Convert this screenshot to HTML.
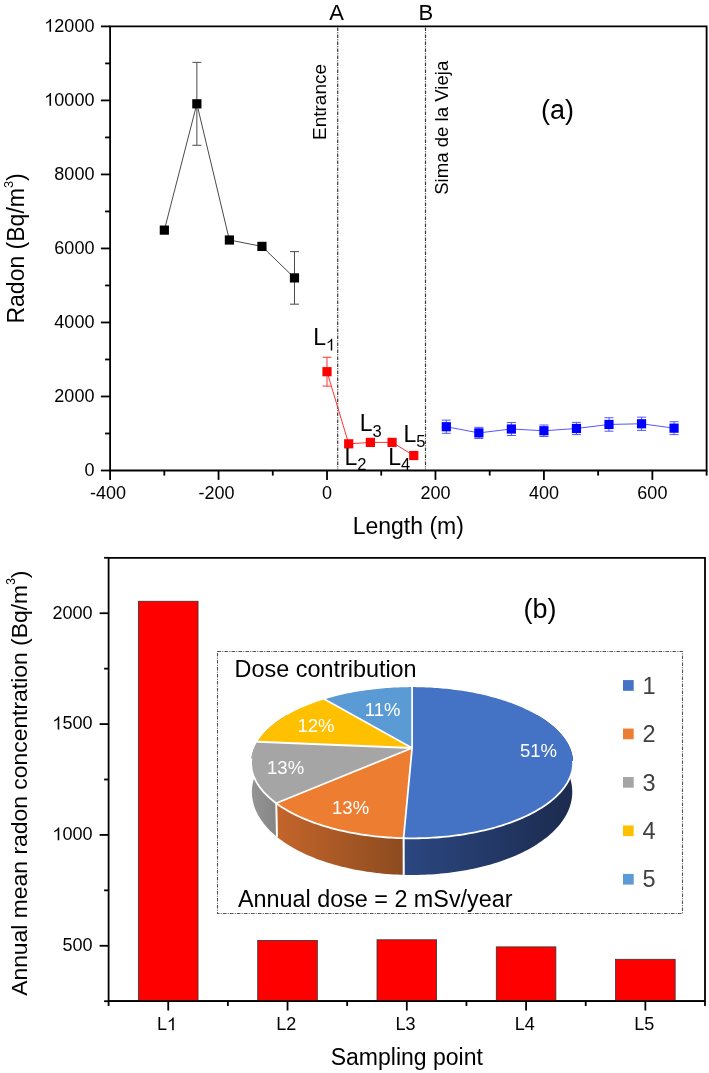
<!DOCTYPE html>
<html><head><meta charset="utf-8"><style>html,body{margin:0;padding:0;background:#fff;}svg{display:block;will-change:transform;}</style></head>
<body><svg width="709" height="1073" viewBox="0 0 709 1073"><defs><linearGradient id="g0" gradientUnits="userSpaceOnUse" x1="403.6" y1="0" x2="573.1" y2="0"><stop offset="0" stop-color="#2B4781"/><stop offset="1" stop-color="#1C2B4E"/></linearGradient><linearGradient id="g1" gradientUnits="userSpaceOnUse" x1="276.2" y1="0" x2="403.6" y2="0"><stop offset="0" stop-color="#C4652B"/><stop offset="1" stop-color="#8C4B1F"/></linearGradient><linearGradient id="g2" gradientUnits="userSpaceOnUse" x1="251.1" y1="0" x2="276.9" y2="0"><stop offset="0" stop-color="#959595"/><stop offset="1" stop-color="#858585"/></linearGradient><linearGradient id="g3" gradientUnits="userSpaceOnUse" x1="257.4" y1="0" x2="288.1" y2="0"><stop offset="0" stop-color="#C99A00"/><stop offset="1" stop-color="#a07800"/></linearGradient></defs><rect width="709" height="1073" fill="#fff"/><path d="M110.1,26.4H706.6V470.5H110.1Z" stroke="#000" stroke-width="1.8" fill="none" stroke-linejoin="miter"/>
<line x1="100.89999999999999" y1="470.50" x2="110.1" y2="470.50" stroke="#000" stroke-width="1.8" fill="none"/>
<text x="84.39" y="475.90" font-size="18" fill="#000" font-family="Liberation Sans, sans-serif">0</text>
<line x1="105.1" y1="433.49" x2="110.1" y2="433.49" stroke="#000" stroke-width="1.8" fill="none"/>
<line x1="100.89999999999999" y1="396.48" x2="110.1" y2="396.48" stroke="#000" stroke-width="1.8" fill="none"/>
<text x="54.36" y="401.88" font-size="18" fill="#000" font-family="Liberation Sans, sans-serif">2000</text>
<line x1="105.1" y1="359.48" x2="110.1" y2="359.48" stroke="#000" stroke-width="1.8" fill="none"/>
<line x1="100.89999999999999" y1="322.47" x2="110.1" y2="322.47" stroke="#000" stroke-width="1.8" fill="none"/>
<text x="54.36" y="327.87" font-size="18" fill="#000" font-family="Liberation Sans, sans-serif">4000</text>
<line x1="105.1" y1="285.46" x2="110.1" y2="285.46" stroke="#000" stroke-width="1.8" fill="none"/>
<line x1="100.89999999999999" y1="248.45" x2="110.1" y2="248.45" stroke="#000" stroke-width="1.8" fill="none"/>
<text x="54.36" y="253.85" font-size="18" fill="#000" font-family="Liberation Sans, sans-serif">6000</text>
<line x1="105.1" y1="211.44" x2="110.1" y2="211.44" stroke="#000" stroke-width="1.8" fill="none"/>
<line x1="100.89999999999999" y1="174.43" x2="110.1" y2="174.43" stroke="#000" stroke-width="1.8" fill="none"/>
<text x="54.36" y="179.83" font-size="18" fill="#000" font-family="Liberation Sans, sans-serif">8000</text>
<line x1="105.1" y1="137.43" x2="110.1" y2="137.43" stroke="#000" stroke-width="1.8" fill="none"/>
<line x1="100.89999999999999" y1="100.42" x2="110.1" y2="100.42" stroke="#000" stroke-width="1.8" fill="none"/>
<path transform="translate(44.35,105.82) scale(0.008789,-0.008789)" d="M763,0 L583,0 L583,1147 C518,1085 433,1023 328,961 C270,927 223,905 190,893 L190,1067 C285,1112 370,1166 455,1230 C540,1294 600,1364 637,1466 L763,1466 Z" fill="#000"/>
<text x="54.36" y="105.82" font-size="18" fill="#000" font-family="Liberation Sans, sans-serif">0000</text>
<line x1="105.1" y1="63.41" x2="110.1" y2="63.41" stroke="#000" stroke-width="1.8" fill="none"/>
<line x1="100.89999999999999" y1="26.40" x2="110.1" y2="26.40" stroke="#000" stroke-width="1.8" fill="none"/>
<path transform="translate(44.35,31.80) scale(0.008789,-0.008789)" d="M763,0 L583,0 L583,1147 C518,1085 433,1023 328,961 C270,927 223,905 190,893 L190,1067 C285,1112 370,1166 455,1230 C540,1294 600,1364 637,1466 L763,1466 Z" fill="#000"/>
<text x="54.36" y="31.80" font-size="18" fill="#000" font-family="Liberation Sans, sans-serif">2000</text>
<line x1="110.10" y1="470.5" x2="110.10" y2="479.9" stroke="#000" stroke-width="1.8" fill="none"/>
<text x="90.08" y="499.30" font-size="18" fill="#000" font-family="Liberation Sans, sans-serif">-400</text>
<line x1="164.33" y1="470.5" x2="164.33" y2="475.6" stroke="#000" stroke-width="1.8" fill="none"/>
<line x1="218.55" y1="470.5" x2="218.55" y2="479.9" stroke="#000" stroke-width="1.8" fill="none"/>
<text x="198.53" y="499.30" font-size="18" fill="#000" font-family="Liberation Sans, sans-serif">-200</text>
<line x1="272.78" y1="470.5" x2="272.78" y2="475.6" stroke="#000" stroke-width="1.8" fill="none"/>
<line x1="327.01" y1="470.5" x2="327.01" y2="479.9" stroke="#000" stroke-width="1.8" fill="none"/>
<text x="322.00" y="499.30" font-size="18" fill="#000" font-family="Liberation Sans, sans-serif">0</text>
<line x1="381.24" y1="470.5" x2="381.24" y2="475.6" stroke="#000" stroke-width="1.8" fill="none"/>
<line x1="435.46" y1="470.5" x2="435.46" y2="479.9" stroke="#000" stroke-width="1.8" fill="none"/>
<text x="420.45" y="499.30" font-size="18" fill="#000" font-family="Liberation Sans, sans-serif">200</text>
<line x1="489.69" y1="470.5" x2="489.69" y2="475.6" stroke="#000" stroke-width="1.8" fill="none"/>
<line x1="543.92" y1="470.5" x2="543.92" y2="479.9" stroke="#000" stroke-width="1.8" fill="none"/>
<text x="528.90" y="499.30" font-size="18" fill="#000" font-family="Liberation Sans, sans-serif">400</text>
<line x1="598.15" y1="470.5" x2="598.15" y2="475.6" stroke="#000" stroke-width="1.8" fill="none"/>
<line x1="652.37" y1="470.5" x2="652.37" y2="479.9" stroke="#000" stroke-width="1.8" fill="none"/>
<text x="637.36" y="499.30" font-size="18" fill="#000" font-family="Liberation Sans, sans-serif">600</text>
<line x1="706.60" y1="470.5" x2="706.60" y2="475.6" stroke="#000" stroke-width="1.8" fill="none"/>
<text x="408.3" y="534.2" text-anchor="middle" font-size="23" font-family="Liberation Sans, sans-serif">Length (m)</text>
<text transform="translate(23.6,248.4) rotate(-90)" text-anchor="middle" font-size="23" font-family="Liberation Sans, sans-serif">Radon (Bq/m<tspan font-size="12.8" dy="-11">3</tspan><tspan dy="11">)</tspan></text>
<line x1="337.70" y1="27.4" x2="337.70" y2="469.5" stroke="#3a3a3a" stroke-width="1.2" stroke-dasharray="3.6 1.2 1 1.2"/>
<text x="336.50" y="19.8" text-anchor="middle" font-size="22" font-family="Liberation Sans, sans-serif">A</text>
<line x1="425.50" y1="27.4" x2="425.50" y2="469.5" stroke="#3a3a3a" stroke-width="1.2" stroke-dasharray="3.6 1.2 1 1.2"/>
<text x="425.80" y="19.8" text-anchor="middle" font-size="22" font-family="Liberation Sans, sans-serif">B</text>
<text transform="translate(326.4,140) rotate(-90)" font-size="19" font-family="Liberation Sans, sans-serif">Entrance</text>
<text transform="translate(448.4,194.8) rotate(-90)" font-size="18.6" font-family="Liberation Sans, sans-serif">Sima de la Vieja</text>
<text x="557.5" y="119" text-anchor="middle" font-size="27" font-family="Liberation Sans, sans-serif">(a)</text>
<path d="M164.33,230.13 L196.86,103.82 L229.40,240.01 L261.94,246.41 L294.47,277.91" stroke="#4a4a4a" stroke-width="1" fill="none"/>
<path d="M196.86,62.37V145.27M192.36,62.37H201.36M192.36,145.27H201.36" stroke="#4a4a4a" stroke-width="1" fill="none"/>
<path d="M294.47,251.63V304.18M289.97,251.63H298.97M289.97,304.18H298.97" stroke="#4a4a4a" stroke-width="1" fill="none"/>
<rect x="159.73" y="225.53" width="9.2" height="9.2" fill="#000"/>
<rect x="192.26" y="99.22" width="9.2" height="9.2" fill="#000"/>
<rect x="224.80" y="235.41" width="9.2" height="9.2" fill="#000"/>
<rect x="257.34" y="241.81" width="9.2" height="9.2" fill="#000"/>
<rect x="289.87" y="273.31" width="9.2" height="9.2" fill="#000"/>
<path d="M327.01,371.69 L348.70,443.82 L370.39,442.41 L392.08,442.41 L413.77,455.51" stroke="#f33" stroke-width="1" fill="none"/>
<path d="M327.01,357.25V386.12M322.51,357.25H331.51M322.51,386.12H331.51" stroke="#f33" stroke-width="1" fill="none"/>
<rect x="322.41" y="367.09" width="9.2" height="9.2" fill="#f00"/>
<rect x="344.10" y="439.22" width="9.2" height="9.2" fill="#f00"/>
<rect x="365.79" y="437.81" width="9.2" height="9.2" fill="#f00"/>
<rect x="387.48" y="437.81" width="9.2" height="9.2" fill="#f00"/>
<rect x="409.17" y="450.91" width="9.2" height="9.2" fill="#f00"/>
<path d="M446.31,426.72 L478.85,432.90 L511.38,429.01 L543.92,430.75 L576.45,428.50 L608.99,424.46 L641.53,423.76 L674.06,428.16" stroke="#55f" stroke-width="1" fill="none"/>
<path d="M446.31,420.13V433.31M441.81,420.13H450.81M441.81,433.31H450.81" stroke="#55f" stroke-width="1" fill="none"/>
<path d="M478.85,427.35V438.45M474.35,427.35H483.35M474.35,438.45H483.35" stroke="#55f" stroke-width="1" fill="none"/>
<path d="M511.38,422.54V435.49M506.88,422.54H515.88M506.88,435.49H515.88" stroke="#55f" stroke-width="1" fill="none"/>
<path d="M543.92,425.02V436.49M539.42,425.02H548.42M539.42,436.49H548.42" stroke="#55f" stroke-width="1" fill="none"/>
<path d="M576.45,422.39V434.60M571.95,422.39H580.95M571.95,434.60H580.95" stroke="#55f" stroke-width="1" fill="none"/>
<path d="M608.99,417.73V431.20M604.49,417.73H613.49M604.49,431.20H613.49" stroke="#55f" stroke-width="1" fill="none"/>
<path d="M641.53,417.17V430.35M637.03,417.17H646.03M637.03,430.35H646.03" stroke="#55f" stroke-width="1" fill="none"/>
<path d="M674.06,421.72V434.60M669.56,421.72H678.56M669.56,434.60H678.56" stroke="#55f" stroke-width="1" fill="none"/>
<rect x="441.71" y="422.12" width="9.2" height="9.2" fill="#00f"/>
<rect x="474.25" y="428.30" width="9.2" height="9.2" fill="#00f"/>
<rect x="506.78" y="424.41" width="9.2" height="9.2" fill="#00f"/>
<rect x="539.32" y="426.15" width="9.2" height="9.2" fill="#00f"/>
<rect x="571.85" y="423.90" width="9.2" height="9.2" fill="#00f"/>
<rect x="604.39" y="419.86" width="9.2" height="9.2" fill="#00f"/>
<rect x="636.93" y="419.16" width="9.2" height="9.2" fill="#00f"/>
<rect x="669.46" y="423.56" width="9.2" height="9.2" fill="#00f"/>
<text x="313.3" y="345.2" font-size="23" font-family="Liberation Sans, sans-serif">L</text>
<path transform="translate(326.09,350.60) scale(0.008057,-0.008057)" d="M763,0 L583,0 L583,1147 C518,1085 433,1023 328,961 C270,927 223,905 190,893 L190,1067 C285,1112 370,1166 455,1230 C540,1294 600,1364 637,1466 L763,1466 Z" fill="#000"/>
<text x="344.5" y="465.0" font-size="23" font-family="Liberation Sans, sans-serif">L</text>
<text x="357.29" y="470.40" font-size="16.5" fill="#000" font-family="Liberation Sans, sans-serif">2</text>
<text x="359.7" y="431.4" font-size="23" font-family="Liberation Sans, sans-serif">L</text>
<text x="372.49" y="436.80" font-size="16.5" fill="#000" font-family="Liberation Sans, sans-serif">3</text>
<text x="388.2" y="465.0" font-size="23" font-family="Liberation Sans, sans-serif">L</text>
<text x="400.99" y="470.40" font-size="16.5" fill="#000" font-family="Liberation Sans, sans-serif">4</text>
<text x="403.4" y="441.8" font-size="23" font-family="Liberation Sans, sans-serif">L</text>
<text x="416.19" y="447.20" font-size="16.5" fill="#000" font-family="Liberation Sans, sans-serif">5</text>
<path d="M108.6,557.8H705.0V1001.2H108.6Z" stroke="#000" stroke-width="1.8" fill="none"/>
<rect x="138.44" y="601.25" width="59.6" height="399.95" fill="#f00" stroke="#333" stroke-width="0.8"/>
<rect x="257.72" y="940.45" width="59.6" height="60.75" fill="#f00" stroke="#333" stroke-width="0.8"/>
<rect x="377.00" y="939.79" width="59.6" height="61.41" fill="#f00" stroke="#333" stroke-width="0.8"/>
<rect x="496.28" y="946.88" width="59.6" height="54.32" fill="#f00" stroke="#333" stroke-width="0.8"/>
<rect x="615.56" y="959.30" width="59.6" height="41.90" fill="#f00" stroke="#333" stroke-width="0.8"/>
<path d="M108.6,1001.2H705.0" stroke="#000" stroke-width="1.8" fill="none"/>
<line x1="104.1" y1="1001.20" x2="108.6" y2="1001.20" stroke="#000" stroke-width="1.8" fill="none"/>
<line x1="99.6" y1="945.78" x2="108.6" y2="945.78" stroke="#000" stroke-width="1.8" fill="none"/>
<text x="62.57" y="951.18" font-size="18" fill="#000" font-family="Liberation Sans, sans-serif">500</text>
<line x1="104.1" y1="890.35" x2="108.6" y2="890.35" stroke="#000" stroke-width="1.8" fill="none"/>
<line x1="99.6" y1="834.92" x2="108.6" y2="834.92" stroke="#000" stroke-width="1.8" fill="none"/>
<path transform="translate(52.56,840.32) scale(0.008789,-0.008789)" d="M763,0 L583,0 L583,1147 C518,1085 433,1023 328,961 C270,927 223,905 190,893 L190,1067 C285,1112 370,1166 455,1230 C540,1294 600,1364 637,1466 L763,1466 Z" fill="#000"/>
<text x="62.57" y="840.32" font-size="18" fill="#000" font-family="Liberation Sans, sans-serif">000</text>
<line x1="104.1" y1="779.50" x2="108.6" y2="779.50" stroke="#000" stroke-width="1.8" fill="none"/>
<line x1="99.6" y1="724.08" x2="108.6" y2="724.08" stroke="#000" stroke-width="1.8" fill="none"/>
<path transform="translate(52.56,729.48) scale(0.008789,-0.008789)" d="M763,0 L583,0 L583,1147 C518,1085 433,1023 328,961 C270,927 223,905 190,893 L190,1067 C285,1112 370,1166 455,1230 C540,1294 600,1364 637,1466 L763,1466 Z" fill="#000"/>
<text x="62.57" y="729.48" font-size="18" fill="#000" font-family="Liberation Sans, sans-serif">500</text>
<line x1="104.1" y1="668.65" x2="108.6" y2="668.65" stroke="#000" stroke-width="1.8" fill="none"/>
<line x1="99.6" y1="613.22" x2="108.6" y2="613.22" stroke="#000" stroke-width="1.8" fill="none"/>
<text x="52.56" y="618.62" font-size="18" fill="#000" font-family="Liberation Sans, sans-serif">2000</text>
<line x1="104.1" y1="557.80" x2="108.6" y2="557.80" stroke="#000" stroke-width="1.8" fill="none"/>
<line x1="108.60" y1="1001.2" x2="108.60" y2="1006.0" stroke="#000" stroke-width="1.8" fill="none"/>
<line x1="227.88" y1="1001.2" x2="227.88" y2="1006.0" stroke="#000" stroke-width="1.8" fill="none"/>
<line x1="347.16" y1="1001.2" x2="347.16" y2="1006.0" stroke="#000" stroke-width="1.8" fill="none"/>
<line x1="466.44" y1="1001.2" x2="466.44" y2="1006.0" stroke="#000" stroke-width="1.8" fill="none"/>
<line x1="585.72" y1="1001.2" x2="585.72" y2="1006.0" stroke="#000" stroke-width="1.8" fill="none"/>
<line x1="705.00" y1="1001.2" x2="705.00" y2="1006.0" stroke="#000" stroke-width="1.8" fill="none"/>
<line x1="168.24" y1="1001.2" x2="168.24" y2="1010.5" stroke="#000" stroke-width="1.8" fill="none"/>
<text x="157.03" y="1030.30" font-size="18" fill="#000" font-family="Liberation Sans, sans-serif">L</text>
<path transform="translate(167.04,1030.30) scale(0.008789,-0.008789)" d="M763,0 L583,0 L583,1147 C518,1085 433,1023 328,961 C270,927 223,905 190,893 L190,1067 C285,1112 370,1166 455,1230 C540,1294 600,1364 637,1466 L763,1466 Z" fill="#000"/>
<line x1="287.52" y1="1001.2" x2="287.52" y2="1010.5" stroke="#000" stroke-width="1.8" fill="none"/>
<text x="276.31" y="1030.30" font-size="18" fill="#000" font-family="Liberation Sans, sans-serif">L2</text>
<line x1="406.80" y1="1001.2" x2="406.80" y2="1010.5" stroke="#000" stroke-width="1.8" fill="none"/>
<text x="395.59" y="1030.30" font-size="18" fill="#000" font-family="Liberation Sans, sans-serif">L3</text>
<line x1="526.08" y1="1001.2" x2="526.08" y2="1010.5" stroke="#000" stroke-width="1.8" fill="none"/>
<text x="514.87" y="1030.30" font-size="18" fill="#000" font-family="Liberation Sans, sans-serif">L4</text>
<line x1="645.36" y1="1001.2" x2="645.36" y2="1010.5" stroke="#000" stroke-width="1.8" fill="none"/>
<text x="634.15" y="1030.30" font-size="18" fill="#000" font-family="Liberation Sans, sans-serif">L5</text>
<text x="406.8" y="1064.8" text-anchor="middle" font-size="23" font-family="Liberation Sans, sans-serif">Sampling point</text>
<text transform="translate(26.6,783.2) rotate(-90)" text-anchor="middle" font-size="22.9" font-family="Liberation Sans, sans-serif">Annual mean radon concentration (Bq/m<tspan font-size="12" dy="-12">3</tspan><tspan dy="12">)</tspan></text>
<text x="540" y="618.4" text-anchor="middle" font-size="27" font-family="Liberation Sans, sans-serif">(b)</text>
<rect x="217.5" y="651.5" width="465" height="262" fill="#fff" stroke="#555" stroke-width="1.1" stroke-dasharray="3.6 1.2 1 1.2"/>
<text x="234.6" y="677.4" font-size="23.4" font-family="Liberation Sans, sans-serif">Dose contribution</text>
<text x="238" y="907" font-size="23.35" font-family="Liberation Sans, sans-serif">Annual dose = 2 mSv/year</text>
<rect x="623" y="680.10" width="10.7" height="10.7" fill="#4472C4"/>
<text x="649" y="693.60" text-anchor="middle" font-size="23.5" fill="#404040" font-family="Liberation Sans, sans-serif">1</text>
<rect x="623" y="728.55" width="10.7" height="10.7" fill="#ED7D31"/>
<text x="649" y="742.05" text-anchor="middle" font-size="23.5" fill="#404040" font-family="Liberation Sans, sans-serif">2</text>
<rect x="623" y="777.00" width="10.7" height="10.7" fill="#A5A5A5"/>
<text x="649" y="790.50" text-anchor="middle" font-size="23.5" fill="#404040" font-family="Liberation Sans, sans-serif">3</text>
<rect x="623" y="825.45" width="10.7" height="10.7" fill="#FFC000"/>
<text x="649" y="838.95" text-anchor="middle" font-size="23.5" fill="#404040" font-family="Liberation Sans, sans-serif">4</text>
<rect x="623" y="873.90" width="10.7" height="10.7" fill="#5B9BD5"/>
<text x="649" y="887.40" text-anchor="middle" font-size="23.5" fill="#404040" font-family="Liberation Sans, sans-serif">5</text>
<path d="M536.73,714.85 L538.31,715.77 L539.86,716.71 L541.39,717.66 L542.89,718.63 L544.37,719.61 L545.81,720.60 L547.22,721.61 L548.60,722.63 L549.96,723.67 L551.28,724.71 L552.56,725.77 L553.82,726.85 L555.04,727.93 L556.23,729.03 L557.38,730.14 L558.50,731.26 L559.58,732.40 L560.62,733.55 L561.63,734.71 L562.60,735.88 L563.53,737.06 L564.42,738.25 L565.27,739.45 L566.08,740.67 L566.85,741.89 L567.58,743.12 L568.27,744.37 L568.91,745.62 L569.51,746.88 L570.07,748.16 L570.58,749.44 L571.04,750.73 L571.46,752.02 L571.83,753.33 L572.16,754.64 L572.43,755.96 L572.66,757.28 L572.84,758.61 L572.97,759.95 L573.05,761.29 L573.07,762.64 L573.05,764.00 L572.98,765.35 L572.85,766.71 L572.67,768.08 L572.43,769.45 L572.15,770.82 L571.80,772.19 L571.41,773.56 L570.95,774.94 L570.45,776.31 L569.88,777.69 L569.26,779.06 L568.59,780.43 L567.85,781.81 L567.06,783.18 L566.21,784.54 L565.31,785.91 L564.34,787.27 L563.32,788.63 L562.24,789.98 L561.10,791.32 L559.90,792.66 L558.65,793.99 L557.33,795.32 L555.96,796.63 L554.52,797.94 L553.03,799.24 L551.48,800.53 L549.88,801.81 L548.21,803.08 L546.49,804.33 L544.71,805.57 L542.87,806.80 L540.97,808.02 L539.02,809.22 L537.01,810.40 L534.94,811.57 L532.82,812.72 L530.65,813.86 L528.42,814.97 L526.14,816.07 L523.81,817.15 L521.42,818.21 L518.98,819.25 L516.49,820.26 L513.95,821.26 L511.37,822.23 L508.73,823.18 L506.05,824.10 L503.33,825.00 L500.55,825.88 L497.74,826.73 L494.88,827.55 L491.98,828.35 L489.05,829.12 L486.07,829.86 L483.05,830.58 L480.00,831.26 L476.92,831.92 L473.80,832.54 L470.65,833.14 L467.47,833.70 L464.27,834.24 L461.03,834.74 L457.77,835.21 L454.49,835.65 L451.18,836.05 L447.86,836.43 L444.51,836.77 L441.15,837.08 L437.77,837.35 L434.38,837.59 L430.98,837.79 L427.57,837.97 L424.15,838.10 L420.72,838.21 L417.29,838.28 L413.85,838.31 L410.42,838.31 L406.98,838.28 L403.55,838.21 L403.59,874.85 L407.01,874.92 L410.43,874.96 L413.84,874.96 L417.26,874.92 L420.68,874.85 L424.09,874.74 L427.49,874.59 L430.88,874.40 L434.27,874.18 L437.64,873.92 L441.00,873.62 L444.35,873.29 L447.68,872.92 L450.99,872.52 L454.28,872.08 L457.54,871.61 L460.79,871.10 L464.01,870.55 L467.20,869.97 L470.36,869.36 L473.49,868.72 L476.60,868.04 L479.66,867.33 L482.70,866.59 L485.70,865.81 L488.66,865.01 L491.58,864.18 L494.47,863.31 L497.31,862.42 L500.11,861.50 L502.87,860.54 L505.58,859.57 L508.25,858.56 L510.87,857.53 L513.44,856.47 L515.97,855.39 L518.45,854.29 L520.87,853.16 L523.25,852.00 L525.57,850.83 L527.84,849.63 L530.06,848.42 L532.22,847.18 L534.33,845.92 L536.38,844.65 L538.38,843.35 L540.33,842.04 L542.21,840.71 L544.04,839.37 L545.81,838.01 L547.53,836.63 L549.19,835.25 L550.79,833.85 L552.33,832.43 L553.81,831.01 L555.24,829.57 L556.60,828.12 L557.91,826.67 L559.16,825.20 L560.36,823.73 L561.49,822.25 L562.56,820.76 L563.58,819.26 L564.54,817.76 L565.44,816.25 L566.29,814.74 L567.07,813.23 L567.80,811.71 L568.48,810.19 L569.09,808.67 L569.66,807.14 L570.16,805.62 L570.61,804.09 L571.01,802.56 L571.35,801.04 L571.63,799.51 L571.86,797.99 L572.04,796.47 L572.17,794.95 L572.25,793.44 L572.27,791.93 L572.24,790.42 L572.16,788.92 L572.03,787.42 L571.86,785.93 L571.63,784.44 L571.35,782.97 L571.03,781.49 L570.66,780.03 L570.25,778.57 L569.78,777.12 L569.28,775.68 L568.72,774.24 L568.13,772.82 L567.49,771.40 L566.80,770.00 L566.08,768.60 L565.31,767.22 L564.51,765.84 L563.66,764.48 L562.77,763.12 L561.85,761.78 L560.88,760.45 L559.88,759.14 L558.84,757.83 L557.76,756.54 L556.65,755.26 L555.51,753.99 L554.32,752.73 L553.11,751.49 L551.86,750.27 L550.58,749.05 L549.27,747.85 L547.92,746.67 L546.55,745.50 L545.14,744.34 L543.70,743.20 L542.24,742.07 L540.75,740.96 L539.23,739.86 L537.68,738.78 L536.10,737.71Z" fill="url(#g0)"/>
<line x1="403.55" y1="838.21" x2="403.59" y2="874.85" stroke="#fff" stroke-width="1.8"/>
<path d="M403.55,838.21 L400.13,838.11 L396.72,837.97 L393.31,837.80 L389.91,837.60 L386.53,837.36 L383.16,837.08 L379.80,836.78 L376.46,836.44 L373.14,836.07 L369.84,835.66 L366.56,835.23 L363.31,834.76 L360.08,834.26 L356.88,833.73 L353.70,833.17 L350.56,832.57 L347.44,831.95 L344.36,831.30 L341.32,830.61 L338.31,829.90 L335.33,829.17 L332.40,828.40 L329.50,827.60 L326.65,826.78 L323.84,825.94 L321.07,825.07 L318.34,824.17 L315.66,823.25 L313.03,822.30 L310.45,821.33 L307.91,820.34 L305.42,819.33 L302.98,818.29 L300.60,817.24 L298.26,816.17 L295.98,815.07 L293.75,813.96 L291.58,812.83 L289.45,811.68 L287.39,810.51 L285.38,809.33 L283.42,808.14 L281.53,806.93 L279.68,805.70 L277.90,804.46 L276.17,803.21 L276.85,836.78 L278.57,838.15 L280.35,839.51 L282.18,840.85 L284.07,842.17 L286.01,843.48 L288.01,844.77 L290.07,846.04 L292.18,847.29 L294.34,848.53 L296.56,849.74 L298.83,850.93 L301.15,852.10 L303.53,853.25 L305.95,854.38 L308.43,855.48 L310.95,856.56 L313.53,857.61 L316.15,858.64 L318.81,859.64 L321.52,860.61 L324.28,861.56 L327.08,862.48 L329.92,863.37 L332.80,864.23 L335.72,865.06 L338.68,865.86 L341.67,866.63 L344.70,867.37 L347.77,868.08 L350.87,868.75 L353.99,869.39 L357.15,870.00 L360.34,870.58 L363.55,871.12 L366.79,871.63 L370.05,872.10 L373.34,872.54 L376.64,872.94 L379.96,873.30 L383.30,873.63 L386.66,873.93 L390.02,874.19 L393.40,874.41 L396.79,874.59 L400.19,874.74 L403.59,874.85Z" fill="url(#g1)"/>
<line x1="403.55" y1="838.21" x2="403.59" y2="874.85" stroke="#fff" stroke-width="1.8"/>
<line x1="276.17" y1="803.21" x2="276.85" y2="836.78" stroke="#fff" stroke-width="1.8"/>
<path d="M276.17,803.21 L274.49,801.94 L272.87,800.66 L271.31,799.36 L269.81,798.06 L268.36,796.75 L266.98,795.43 L265.65,794.09 L264.39,792.76 L263.18,791.41 L262.03,790.06 L260.94,788.70 L259.91,787.34 L258.94,785.98 L258.03,784.61 L257.17,783.23 L256.37,781.86 L255.64,780.48 L254.95,779.10 L254.33,777.72 L253.76,776.33 L253.25,774.95 L252.80,773.57 L252.40,772.19 L252.05,770.81 L251.76,769.44 L251.53,768.06 L251.35,766.69 L251.22,765.33 L251.15,763.96 L251.13,762.60 L251.16,761.25 L251.24,759.90 L251.37,758.56 L251.55,757.22 L251.78,755.89 L252.06,754.56 L252.39,753.25 L252.77,751.94 L253.19,750.63 L253.66,749.34 L254.18,748.06 L254.74,746.78 L255.34,745.51 L255.99,744.25 L256.69,743.00 L257.42,741.77 L258.20,768.46 L257.46,769.86 L256.77,771.27 L256.13,772.69 L255.52,774.12 L254.97,775.56 L254.45,777.01 L253.99,778.47 L253.56,779.93 L253.19,781.40 L252.86,782.88 L252.58,784.37 L252.35,785.86 L252.17,787.36 L252.04,788.86 L251.96,790.37 L251.93,791.89 L251.95,793.40 L252.03,794.92 L252.15,796.45 L252.33,797.98 L252.57,799.51 L252.85,801.04 L253.20,802.57 L253.59,804.10 L254.05,805.64 L254.55,807.17 L255.12,808.70 L255.74,810.23 L256.42,811.76 L257.15,813.28 L257.95,814.80 L258.80,816.32 L259.70,817.84 L260.67,819.34 L261.70,820.84 L262.78,822.34 L263.92,823.83 L265.12,825.31 L266.38,826.78 L267.70,828.24 L269.08,829.69 L270.52,831.14 L272.01,832.57 L273.57,833.99 L275.18,835.39 L276.85,836.78Z" fill="url(#g2)"/>
<line x1="276.17" y1="803.21" x2="276.85" y2="836.78" stroke="#fff" stroke-width="1.8"/>
<path d="M257.42,741.77 L258.19,740.55 L259.01,739.34 L259.86,738.14 L260.75,736.96 L261.68,735.78 L262.65,734.62 L263.65,733.46 L264.70,732.32 L265.78,731.19 L266.89,730.07 L268.04,728.97 L269.22,727.87 L270.44,726.79 L271.69,725.73 L272.98,724.67 L274.29,723.63 L275.64,722.60 L277.02,721.58 L278.43,720.58 L279.86,719.59 L281.33,718.61 L282.83,717.65 L284.35,716.70 L285.90,715.77 L287.47,714.85 L288.10,737.71 L286.53,738.78 L284.99,739.85 L283.47,740.95 L281.98,742.05 L280.52,743.17 L279.09,744.31 L277.69,745.46 L276.32,746.63 L274.98,747.81 L273.67,749.00 L272.40,750.21 L271.15,751.43 L269.94,752.67 L268.76,753.92 L267.62,755.18 L266.51,756.45 L265.43,757.74 L264.40,759.04 L263.39,760.35 L262.43,761.67 L261.51,763.01 L260.62,764.36 L259.77,765.71 L258.96,767.08 L258.20,768.46Z" fill="url(#g3)"/>
<path d="M412.1,748.0 L412.10,687.10 L414.41,687.10 L416.73,687.13 L419.04,687.17 L421.35,687.22 L423.66,687.29 L425.97,687.38 L428.27,687.48 L430.58,687.60 L432.88,687.73 L435.17,687.88 L437.47,688.04 L439.76,688.22 L442.04,688.42 L444.32,688.63 L446.60,688.85 L448.87,689.09 L451.13,689.35 L453.39,689.63 L455.64,689.91 L457.88,690.22 L460.12,690.54 L462.35,690.87 L464.57,691.22 L466.78,691.59 L468.98,691.97 L471.17,692.37 L473.36,692.78 L475.53,693.21 L477.69,693.66 L479.85,694.12 L481.98,694.59 L484.11,695.08 L486.23,695.59 L488.33,696.11 L490.42,696.65 L492.50,697.20 L494.56,697.77 L496.61,698.35 L498.64,698.95 L500.65,699.57 L502.66,700.19 L504.64,700.84 L506.61,701.50 L508.56,702.17 L510.49,702.86 L512.40,703.57 L514.30,704.29 L516.18,705.02 L518.03,705.77 L519.87,706.54 L521.68,707.32 L523.47,708.11 L525.25,708.92 L527.00,709.75 L528.72,710.59 L530.42,711.44 L532.10,712.31 L533.76,713.19 L535.38,714.09 L536.99,715.00 L538.56,715.92 L540.11,716.86 L541.64,717.82 L543.13,718.78 L544.60,719.77 L546.03,720.76 L547.44,721.77 L548.81,722.79 L550.16,723.82 L551.47,724.87 L552.75,725.93 L554.00,727.01 L555.22,728.09 L556.40,729.19 L557.54,730.30 L558.65,731.43 L559.73,732.56 L560.77,733.71 L561.77,734.87 L562.73,736.04 L563.65,737.22 L564.54,738.41 L565.38,739.61 L566.19,740.83 L566.95,742.05 L567.67,743.28 L568.35,744.53 L568.99,745.78 L569.58,747.04 L570.13,748.31 L570.64,749.59 L571.09,750.88 L571.51,752.18 L571.87,753.48 L572.19,754.79 L572.46,756.11 L572.68,757.43 L572.86,758.76 L572.98,760.10 L573.05,761.44 L573.07,762.79 L573.05,764.14 L572.96,765.50 L572.83,766.86 L572.65,768.22 L572.41,769.59 L572.11,770.95 L571.77,772.32 L571.36,773.70 L570.91,775.07 L570.40,776.44 L569.83,777.82 L569.20,779.19 L568.52,780.56 L567.78,781.93 L566.99,783.30 L566.14,784.66 L565.23,786.03 L564.26,787.38 L563.23,788.74 L562.15,790.09 L561.01,791.43 L559.81,792.77 L558.55,794.10 L557.23,795.42 L555.85,796.73 L554.42,798.04 L552.92,799.34 L551.37,800.62 L549.76,801.90 L548.09,803.16 L546.37,804.41 L544.59,805.65 L542.75,806.88 L540.85,808.09 L538.89,809.29 L536.89,810.47 L534.82,811.64 L532.70,812.79 L530.53,813.92 L528.30,815.03 L526.02,816.13 L523.68,817.20 L521.30,818.26 L518.86,819.30 L516.37,820.31 L513.83,821.30 L511.25,822.27 L508.62,823.22 L505.94,824.14 L503.21,825.04 L500.44,825.91 L497.63,826.76 L494.77,827.58 L491.88,828.38 L488.94,829.15 L485.97,829.89 L482.96,830.60 L479.91,831.28 L476.83,831.93 L473.71,832.56 L470.57,833.15 L467.39,833.72 L464.19,834.25 L460.96,834.75 L457.70,835.22 L454.42,835.66 L451.12,836.06 L447.80,836.43 L444.46,836.77 L441.10,837.08 L437.73,837.35 L434.34,837.59 L430.94,837.80 L427.53,837.97 L424.12,838.11 L420.70,838.21 L417.27,838.28 L413.84,838.31 L410.41,838.31 L406.98,838.28 L403.55,838.21Z" fill="#4472C4"/>
<path d="M412.1,748.0 L403.55,838.21 L400.13,838.11 L396.72,837.97 L393.31,837.80 L389.91,837.60 L386.53,837.36 L383.16,837.08 L379.80,836.78 L376.46,836.44 L373.14,836.07 L369.84,835.66 L366.56,835.23 L363.31,834.76 L360.08,834.26 L356.88,833.73 L353.70,833.17 L350.56,832.57 L347.44,831.95 L344.36,831.30 L341.32,830.61 L338.31,829.90 L335.33,829.17 L332.40,828.40 L329.50,827.60 L326.65,826.78 L323.84,825.94 L321.07,825.07 L318.34,824.17 L315.66,823.25 L313.03,822.30 L310.45,821.33 L307.91,820.34 L305.42,819.33 L302.98,818.29 L300.60,817.24 L298.26,816.17 L295.98,815.07 L293.75,813.96 L291.58,812.83 L289.45,811.68 L287.39,810.51 L285.38,809.33 L283.42,808.14 L281.53,806.93 L279.68,805.70 L277.90,804.46 L276.17,803.21Z" fill="#ED7D31"/>
<path d="M412.1,748.0 L276.17,803.21 L274.49,801.94 L272.87,800.66 L271.31,799.36 L269.81,798.06 L268.36,796.75 L266.98,795.43 L265.65,794.09 L264.39,792.76 L263.18,791.41 L262.03,790.06 L260.94,788.70 L259.91,787.34 L258.94,785.98 L258.03,784.61 L257.17,783.23 L256.37,781.86 L255.64,780.48 L254.95,779.10 L254.33,777.72 L253.76,776.33 L253.25,774.95 L252.80,773.57 L252.40,772.19 L252.05,770.81 L251.76,769.44 L251.53,768.06 L251.35,766.69 L251.22,765.33 L251.15,763.96 L251.13,762.60 L251.16,761.25 L251.24,759.90 L251.37,758.56 L251.55,757.22 L251.78,755.89 L252.06,754.56 L252.39,753.25 L252.77,751.94 L253.19,750.63 L253.66,749.34 L254.18,748.06 L254.74,746.78 L255.34,745.51 L255.99,744.25 L256.69,743.00 L257.42,741.77Z" fill="#A5A5A5"/>
<path d="M412.1,748.0 L257.42,741.77 L258.20,740.54 L259.02,739.32 L259.88,738.11 L260.78,736.91 L261.72,735.73 L262.70,734.55 L263.72,733.39 L264.77,732.24 L265.86,731.10 L266.99,729.97 L268.15,728.86 L269.35,727.76 L270.59,726.67 L271.85,725.59 L273.15,724.53 L274.48,723.48 L275.85,722.44 L277.24,721.42 L278.67,720.41 L280.12,719.42 L281.61,718.43 L283.12,717.47 L284.66,716.51 L286.23,715.57 L287.83,714.65 L289.45,713.74 L291.10,712.84 L292.77,711.96 L294.47,711.09 L296.20,710.24 L297.94,709.40 L299.71,708.58 L301.50,707.77 L303.32,706.97 L305.15,706.20 L307.01,705.43 L308.88,704.68 L310.78,703.95 L312.70,703.23 L314.63,702.53 L316.58,701.84 L318.55,701.17 L320.54,700.52 L322.55,699.88 L324.57,699.25Z" fill="#FFC000"/>
<path d="M412.1,748.0 L324.57,699.25 L326.62,698.64 L328.68,698.04 L330.77,697.46 L332.86,696.89 L334.97,696.34 L337.10,695.80 L339.23,695.29 L341.38,694.78 L343.54,694.30 L345.72,693.82 L347.90,693.37 L350.10,692.93 L352.31,692.51 L354.53,692.10 L356.75,691.71 L358.99,691.33 L361.24,690.97 L363.49,690.63 L365.75,690.30 L368.02,689.99 L370.30,689.69 L372.59,689.41 L374.88,689.15 L377.17,688.90 L379.48,688.66 L381.78,688.45 L384.10,688.25 L386.41,688.06 L388.74,687.90 L391.06,687.74 L393.39,687.61 L395.72,687.49 L398.06,687.38 L400.39,687.30 L402.73,687.22 L405.07,687.17 L407.42,687.13 L409.76,687.10 L412.10,687.10Z" fill="#5B9BD5"/>
<line x1="412.1" y1="748.0" x2="412.10" y2="687.10" stroke="#fff" stroke-width="1.8" stroke-linecap="round"/>
<line x1="412.1" y1="748.0" x2="403.55" y2="838.21" stroke="#fff" stroke-width="1.8" stroke-linecap="round"/>
<line x1="412.1" y1="748.0" x2="276.17" y2="803.21" stroke="#fff" stroke-width="1.8" stroke-linecap="round"/>
<line x1="412.1" y1="748.0" x2="257.42" y2="741.77" stroke="#fff" stroke-width="1.8" stroke-linecap="round"/>
<line x1="412.1" y1="748.0" x2="324.57" y2="699.25" stroke="#fff" stroke-width="1.8" stroke-linecap="round"/>
<path d="M573.04,761.07 L573.07,762.42 L573.06,763.76 L572.99,765.11 L572.87,766.47 L572.70,767.83 L572.48,769.19 L572.21,770.55 L571.87,771.92 L571.49,773.29 L571.05,774.66 L570.56,776.02 L570.01,777.39 L569.40,778.76 L568.74,780.13 L568.02,781.50 L567.25,782.86 L566.42,784.23 L565.53,785.59 L564.58,786.94 L563.58,788.29 L562.51,789.64 L561.39,790.98 L560.22,792.32 L558.98,793.65 L557.69,794.97 L556.33,796.28 L554.92,797.59 L553.45,798.88 L551.93,800.17 L550.34,801.44 L548.70,802.71 L547.00,803.96 L545.24,805.20 L543.43,806.43 L541.56,807.65 L539.63,808.84 L537.65,810.03 L535.61,811.20 L533.51,812.35 L531.37,813.49 L529.16,814.61 L526.91,815.70 L524.60,816.79 L522.24,817.85 L519.83,818.89 L517.37,819.91 L514.86,820.91 L512.30,821.88 L509.70,822.84 L507.04,823.77 L504.34,824.67 L501.60,825.55 L498.81,826.41 L495.98,827.24 L493.11,828.04 L490.20,828.82 L487.25,829.57 L484.26,830.29 L481.24,830.99 L478.18,831.65 L475.09,832.29 L471.97,832.89 L468.81,833.47 L465.63,834.01 L462.42,834.53 L459.19,835.01 L455.93,835.46 L452.64,835.88 L449.34,836.27 L446.02,836.62 L442.67,836.94 L439.32,837.23 L435.95,837.48 L432.56,837.70 L429.17,837.89 L425.77,838.04 L422.36,838.16 L418.94,838.25 L415.52,838.30 L412.10,838.32 L408.68,838.30 L405.26,838.25 L401.84,838.16 L398.43,838.04 L395.03,837.89 L391.64,837.70 L388.25,837.48 L384.88,837.23 L381.53,836.94 L378.18,836.62 L374.86,836.27 L371.56,835.88 L368.27,835.46 L365.01,835.01 L361.78,834.53 L358.57,834.01 L355.39,833.47 L352.23,832.89 L349.11,832.29 L346.02,831.65 L342.96,830.99 L339.94,830.29 L336.95,829.57 L334.00,828.82 L331.09,828.04 L328.22,827.24 L325.39,826.41 L322.60,825.55 L319.86,824.67 L317.16,823.77 L314.50,822.84 L311.90,821.88 L309.34,820.91 L306.83,819.91 L304.37,818.89 L301.96,817.85 L299.60,816.79 L297.29,815.70 L295.04,814.61 L292.83,813.49 L290.69,812.35 L288.59,811.20 L286.55,810.03 L284.57,808.84 L282.64,807.65 L280.77,806.43 L278.96,805.20 L277.20,803.96 L275.50,802.71 L273.86,801.44 L272.27,800.17 L270.75,798.88 L269.28,797.59 L267.87,796.28 L266.51,794.97 L265.22,793.65 L263.98,792.32 L262.81,790.98 L261.69,789.64 L260.62,788.29 L259.62,786.94 L258.67,785.59 L257.78,784.23 L256.95,782.86 L256.18,781.50 L255.46,780.13 L254.80,778.76 L254.19,777.39 L253.64,776.02 L253.15,774.66 L252.71,773.29 L252.33,771.92 L251.99,770.55 L251.72,769.19 L251.50,767.83 L251.33,766.47 L251.21,765.11 L251.14,763.76 L251.13,762.42 L251.16,761.07 L251.25,759.74 L251.39,758.41" stroke="#fff" stroke-width="1.8" fill="none"/>
<text x="538.5" y="757.4" text-anchor="middle" font-size="18.5" fill="#fff" font-family="Liberation Sans, sans-serif">51%</text>
<text x="350.6" y="814.4" text-anchor="middle" font-size="18.5" fill="#fff" font-family="Liberation Sans, sans-serif">13%</text>
<text x="285.6" y="774" text-anchor="middle" font-size="18.5" fill="#fff" font-family="Liberation Sans, sans-serif">13%</text>
<text x="316" y="732" text-anchor="middle" font-size="18.5" fill="#fff" font-family="Liberation Sans, sans-serif">12%</text>
<text x="382.7" y="715.6" text-anchor="middle" font-size="18.5" fill="#fff" font-family="Liberation Sans, sans-serif">11%</text></svg></body></html>
